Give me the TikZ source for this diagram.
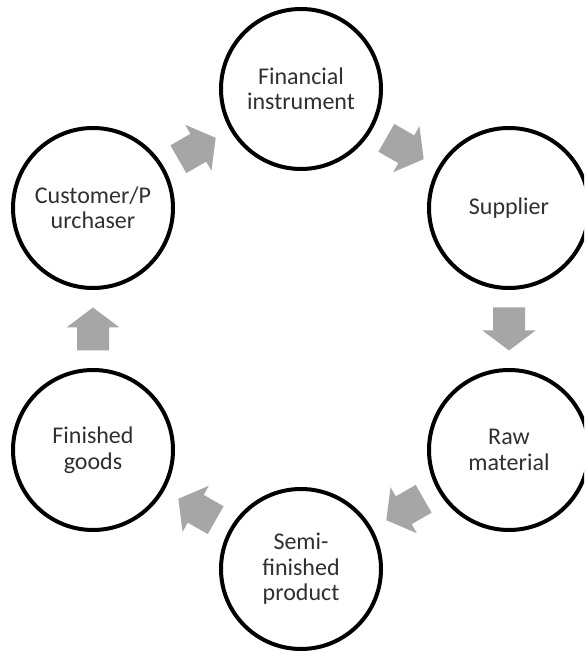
\documentclass[tikz,border=0pt]{standalone}
\usepackage{fontspec}
\setmainfont{Carlito}
\usetikzlibrary{calc}
\definecolor{arrowgray}{HTML}{A6A6A6}
\definecolor{textgray}{HTML}{303030}
\tikzset{
  stage/.style={circle, draw=black, line width=4pt, minimum size=160pt, inner sep=0pt,
    align=center, text=textgray, font=\fontsize{24}{25.5}\selectfont},
  barrow/.pic={\fill[arrowgray] (-21.5pt,-16pt) -- (1.5pt,-16pt) -- (1.5pt,-26.5pt) -- (21.5pt,0pt)
     -- (1.5pt,26.5pt) -- (1.5pt,16pt) -- (-21.5pt,16pt) -- cycle;}
}
\newcommand\flowarrow[2]{%
  \path let \p1=(#1.center), \p2=(#2.center), \n1={atan2(\y2-\y1,\x2-\x1)} in
    ($(\p1)!0.5!(\p2)$) pic[rotate=\n1] {barrow};}
\begin{document}
\begin{tikzpicture}[x=1pt,y=1pt]
\useasboundingbox (0,0) rectangle (584,653);
\clip (0,0) rectangle (584,653);
\fill[white] (0,0) rectangle (584,653);
\node[stage] (cust) at (93,445) {Customer/P\\urchaser};
\node[stage] (fin) at (301,564) {Financial\\instrument};
\node[stage] (sup) at (509,445) {Supplier};
\node[stage] (raw) at (509,203) {Raw\\material};
\node[stage] (semi) at (301,84) {Semi-\\finished\\product};
\node[stage] (fg) at (93,203) {Finished\\goods};
\flowarrow{cust}{fin}
\flowarrow{fin}{sup}
\flowarrow{sup}{raw}
\flowarrow{raw}{semi}
\flowarrow{semi}{fg}
\flowarrow{fg}{cust}
\end{tikzpicture}
\end{document}
